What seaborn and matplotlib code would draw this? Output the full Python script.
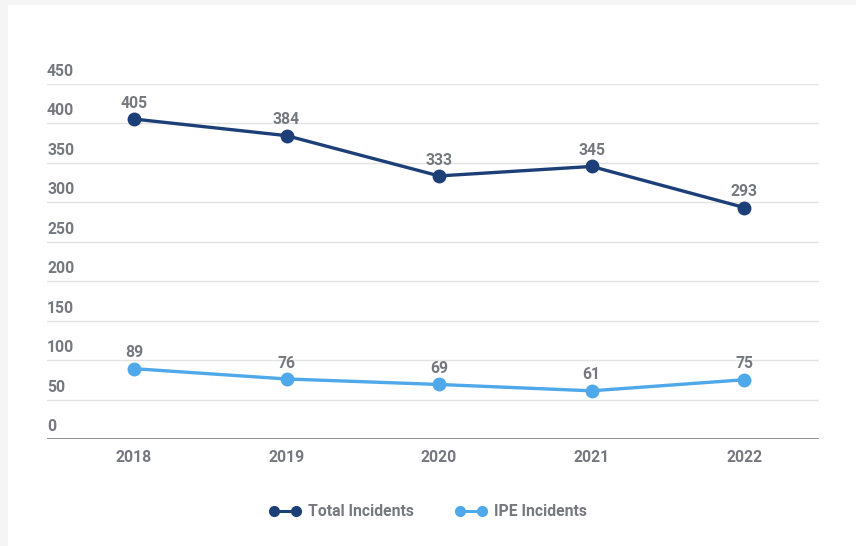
import matplotlib
matplotlib.use("Agg")
import matplotlib.pyplot as plt
import matplotlib.transforms as mtransforms
from matplotlib.patches import Rectangle
from matplotlib.lines import Line2D
import seaborn as sns
import pandas as pd

years = ["2018", "2019", "2020", "2021", "2022"]
total_incidents = [405, 384, 333, 345, 293]
ipe_incidents = [89, 76, 69, 61, 75]
series_names = ["Total Incidents", "IPE Incidents"]
y_ticks = [0, 50, 100, 150, 200, 250, 300, 350, 400, 450]

navy = "#1d3f78"
sky = "#4fa8ea"
text_gray = "#75797f"

sns.set_theme(style="white")
plt.rcParams["font.family"] = ["Roboto", "DejaVu Sans"]
plt.rcParams["font.weight"] = "bold"
FS = 11.3

df = pd.DataFrame({
    "year": list(range(len(years))) * 2,
    "value": total_incidents + ipe_incidents,
    "series": [series_names[0]] * len(years) + [series_names[1]] * len(years),
})

fig = plt.figure(figsize=(8.56, 5.46), dpi=100)
fig.patch.set_facecolor("#f5f5f5")
W, H = 856, 546
# white card
fig.add_artist(Rectangle((8 / W, 0), 1 - 8 / W, 1 - 5 / H, transform=fig.transFigure,
                         facecolor="white", edgecolor="none", zorder=0))

ax = fig.add_axes([47 / W, 107 / H, (819 - 47) / W, (439.3 - 83.8) / H])
ax.set_facecolor("none")

sns.lineplot(data=df, x="year", y="value", hue="series",
             palette={series_names[0]: navy, series_names[1]: sky},
             marker="o", markersize=10, markeredgewidth=0, linewidth=2.4,
             legend=False, ax=ax, zorder=3)

ax.set_xlim(-0.57, 4.49)
ax.set_ylim(0, 450)

# horizontal grid lines
for v in y_ticks[1:]:
    ax.axhline(v, color="#e3e3e3", linewidth=1.0, zorder=1)
ax.axhline(0, color="#85888c", linewidth=2.0, zorder=2)

for s in ax.spines.values():
    s.set_visible(False)

ax.set_yticks([])
ax.set_xticks(range(len(years)))
ax.set_xticklabels(years, fontsize=FS, color=text_gray, fontweight="bold")
ax.tick_params(axis="x", length=0, pad=8)
ax.set_xlabel("")
ax.set_ylabel("")

# y labels sitting above each grid line
trans = mtransforms.blended_transform_factory(ax.transAxes, ax.transData)
for v in y_ticks:
    ax.text(0.0, v + 6, str(v), transform=trans, ha="left", va="bottom",
            fontsize=FS, color=text_gray, fontweight="bold")

# value labels above markers
for vals in (total_incidents, ipe_incidents):
    for i, v in enumerate(vals):
        ax.annotate(str(v), (i, v), xytext=(0, 6), textcoords="offset points",
                    ha="center", va="bottom", fontsize=FS, color=text_gray,
                    fontweight="bold")

handles = [Line2D([0], [0], color=navy, marker="o", markersize=7, linewidth=2.2),
           Line2D([0], [0], color=sky, marker="o", markersize=7, linewidth=2.2)]
leg = fig.legend(handles, series_names, loc="center", bbox_to_anchor=(428 / W, 1 - 512 / H),
                 ncol=2, frameon=False, numpoints=2, handlelength=2.0,
                 handletextpad=0.5, columnspacing=2.6, fontsize=FS)
for t in leg.get_texts():
    t.set_color(text_gray)
    t.set_fontweight("bold")

fig.savefig("out.png", dpi=100, facecolor=fig.get_facecolor())
